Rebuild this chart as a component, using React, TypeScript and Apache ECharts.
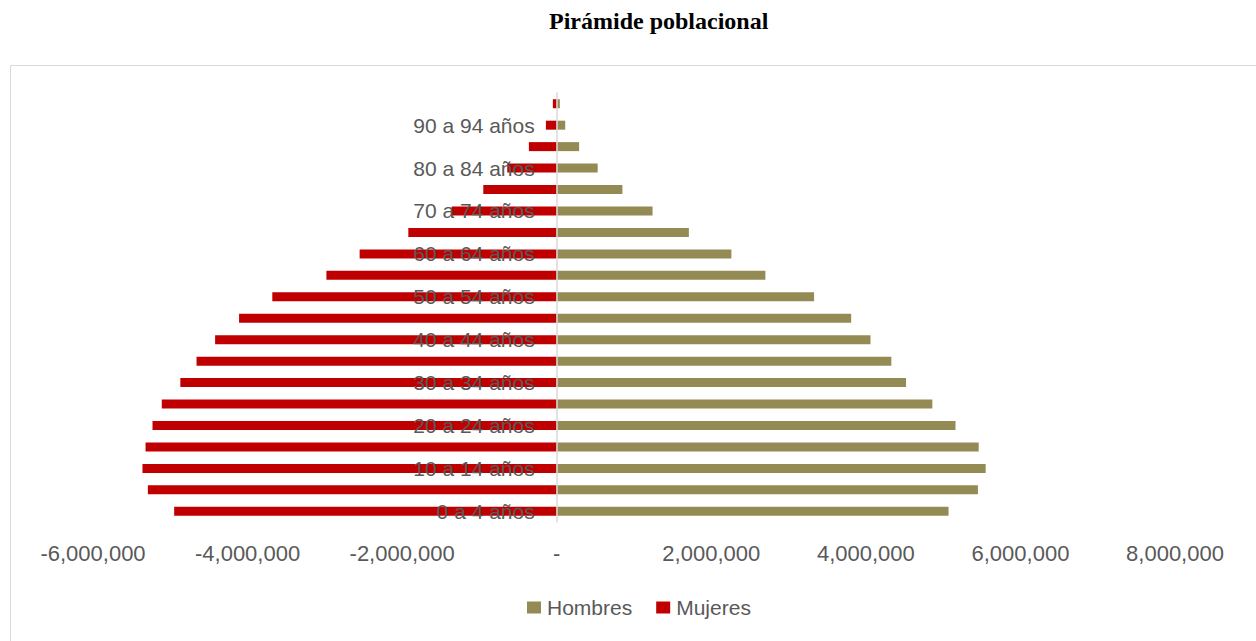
import React, { useEffect, useRef } from "react";
import * as echarts from "echarts";

const categories = [
  "0 a 4 años", "5 a 9 años", "10 a 14 años", "15 a 19 años", "20 a 24 años",
  "25 a 29 años", "30 a 34 años", "35 a 39 años", "40 a 44 años", "45 a 49 años",
  "50 a 54 años", "55 a 59 años", "60 a 64 años", "65 a 69 años", "70 a 74 años",
  "75 a 79 años", "80 a 84 años", "85 a 89 años", "90 a 94 años", "95 años y más",
];

const hombres = [
  5070000, 5450000, 5550000, 5460000, 5160000, 4860000, 4520000, 4330000, 4060000, 3810000,
  3330000, 2700000, 2260000, 1710000, 1240000, 850000, 530000, 290000, 110000, 40000,
];

const mujeres = [
  -4950000, -5290000, -5360000, -5320000, -5230000, -5110000, -4870000, -4660000, -4420000, -4110000,
  -3680000, -2980000, -2550000, -1920000, -1360000, -950000, -640000, -360000, -140000, -50000,
];

const xMin = -6000000;
const xMax = 8000000;
const xStep = 2000000;

const fmt = (v: number) => {
  if (v === 0) return "-";
  return v.toLocaleString("en-US");
};

const W = 1256;
const H = 641;
const gridLeft = 93;
const gridRight = 81;

export default function App() {
  const ref = useRef<HTMLDivElement>(null);
  useEffect(() => {
    if (!ref.current) return;
    const chart = echarts.init(ref.current, null, { renderer: "svg" });
    const gridWidth = W - gridLeft - gridRight;
    const zeroOffset = (gridWidth * (0 - xMin)) / (xMax - xMin);
    chart.setOption({
      animation: false,
      backgroundColor: "#ffffff",
      textStyle: { fontFamily: "Liberation Sans, Arial, sans-serif" },
      title: {
        text: "Pirámide poblacional",
        left: 544,
        top: 4,
        textStyle: {
          fontFamily: "Liberation Serif, Times New Roman, serif",
          fontWeight: "bold",
          fontSize: 24,
          color: "#000000",
        },
      },
      graphic: [
        {
          type: "rect",
          shape: { x: 10.5, y: 65.5, width: 1260, height: 600 },
          style: { fill: "none", stroke: "#D9D9D9", lineWidth: 1 },
          silent: true,
          z: -10,
        },
      ],
      legend: {
        data: ["Hombres", "Mujeres"],
        top: 592,
        left: 522,
        itemWidth: 14,
        itemHeight: 12,
        itemGap: 24,
        icon: "rect",
        textStyle: { fontSize: 21, color: "#595959", padding: [0, 0, 0, 1] },
      },
      grid: {
        left: gridLeft,
        right: gridRight,
        top: 93,
        height: 429,
        containLabel: false,
        outerBoundsMode: "none",
      },
      xAxis: {
        type: "value",
        min: xMin,
        max: xMax,
        interval: xStep,
        axisLine: { show: false },
        axisTick: { show: false },
        splitLine: { show: false },
        axisLabel: {
          formatter: fmt,
          fontSize: 22,
          color: "#595959",
          margin: 20,
        },
      },
      yAxis: {
        type: "category",
        data: categories,
        z: 10,
        position: "left",
        offset: -zeroOffset,
        axisLine: { show: true, onZero: false, lineStyle: { color: "#D9D9D9", width: 1.5 } },
        axisTick: { show: false },
        axisLabel: {
          interval: 1,
          fontSize: 21,
          color: "#595959",
          margin: 22,
        },
      },
      series: [
        {
          name: "Hombres",
          type: "bar",
          stack: "total",
          data: hombres,
          barWidth: 9,
          itemStyle: { color: "#948A54" },
        },
        {
          name: "Mujeres",
          type: "bar",
          stack: "total",
          data: mujeres,
          barWidth: 9,
          itemStyle: { color: "#C00000" },
        },
      ],
    });
    return () => chart.dispose();
  }, []);
  return (
    <div
      ref={ref}
      style={{ position: "fixed", left: 0, top: 0, width: W, height: H }}
    />
  );
}
